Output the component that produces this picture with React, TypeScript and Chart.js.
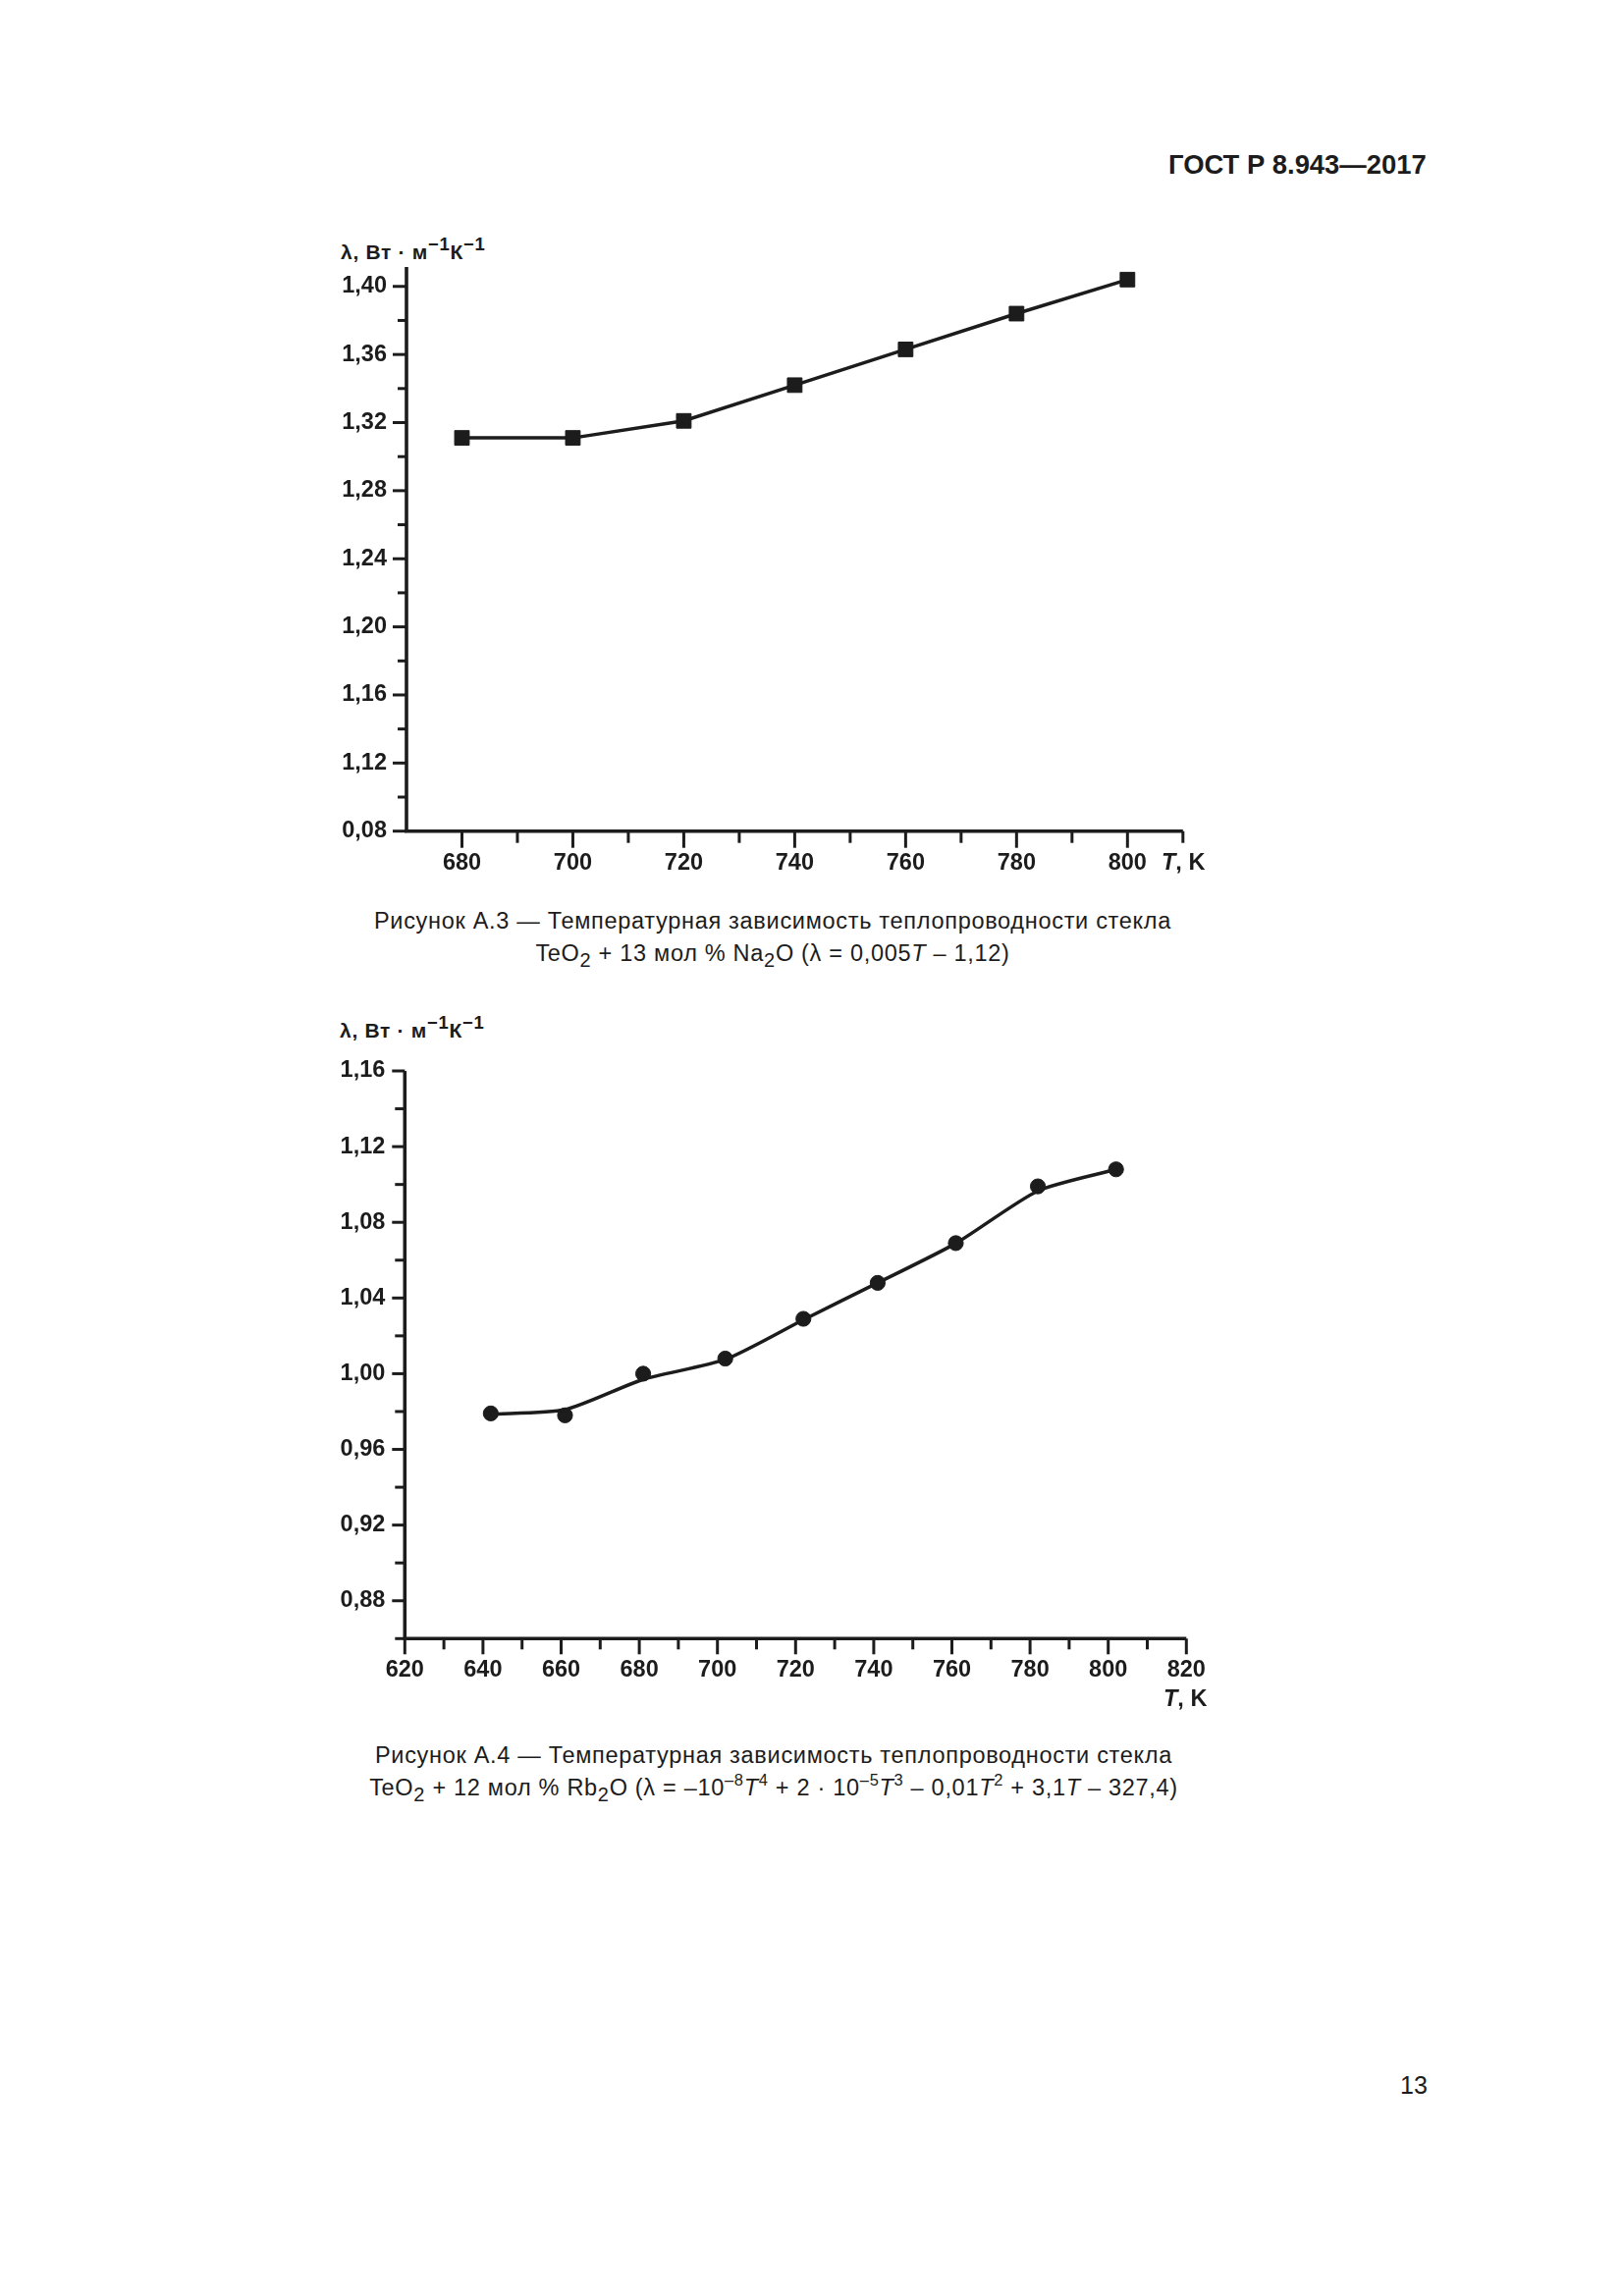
import React, { useEffect, useRef } from "react";
import { Chart, registerables } from "chart.js";

Chart.register(...registerables);

const FONT = '"Liberation Sans", Arial, Helvetica, sans-serif';
const INK = "#1c1c1c";

// ---------- Figure A.3 : TeO2 + 13 mol % Na2O ----------
const tempA3 = [680, 700, 720, 740, 760, 780, 800];
const lambdaA3 = [1.311, 1.311, 1.321, 1.342, 1.363, 1.384, 1.404];
const yMajorA3 = [1.08, 1.12, 1.16, 1.2, 1.24, 1.28, 1.32, 1.36, 1.4];
const yLabelsA3 = ["0,08", "1,12", "1,16", "1,20", "1,24", "1,28", "1,32", "1,36", "1,40"];
const yMinorA3 = [1.1, 1.14, 1.18, 1.22, 1.26, 1.3, 1.34, 1.38];
const xMajorA3 = [680, 700, 720, 740, 760, 780, 800];
const xLabelsA3 = ["680", "700", "720", "740", "760", "780", "800"];
const xMinorA3 = [690, 710, 730, 750, 770, 790, 810];

// ---------- Figure A.4 : TeO2 + 12 mol % Rb2O ----------
const tempA4 = [642, 661, 681, 702, 722, 741, 761, 782, 802];
const lambdaA4 = [0.979, 0.978, 1.0, 1.008, 1.029, 1.048, 1.069, 1.099, 1.108];
const fitTempA4 = [642, 661, 681, 702, 722, 741, 761, 782, 802];
const fitLambdaA4 = [0.9786, 0.981, 0.997, 1.0075, 1.0285, 1.048, 1.0689, 1.0966, 1.108];
const yMajorA4 = [0.88, 0.92, 0.96, 1.0, 1.04, 1.08, 1.12, 1.16];
const yLabelsA4 = ["0,88", "0,92", "0,96", "1,00", "1,04", "1,08", "1,12", "1,16"];
const yMinorA4 = [0.86, 0.9, 0.94, 0.98, 1.02, 1.06, 1.1, 1.14];
const xMajorA4 = [620, 640, 660, 680, 700, 720, 740, 760, 780, 800, 820];
const xLabelsA4 = ["620", "640", "660", "680", "700", "720", "740", "760", "780", "800", "820"];
const xMinorA4 = [630, 650, 670, 690, 710, 730, 750, 770, 790, 810];

type AxisCfg = {
  major: number[];
  labels: string[];
  minor: number[];
  majorLen: number;
  minorLen: number;
};

function makeAxesPlugin(xCfg: AxisCfg, yCfg: AxisCfg) {
  return {
    id: "gostAxes",
    afterDraw(chart: any) {
      const { ctx, chartArea, scales } = chart;
      const xs = scales.x;
      const ys = scales.y;
      ctx.save();
      ctx.strokeStyle = INK;
      ctx.lineCap = "butt";
      ctx.lineWidth = 3;
      const xt = (vals: number[], len: number) =>
        vals.forEach((v) => {
          const px = xs.getPixelForValue(v);
          ctx.beginPath();
          ctx.moveTo(px, chartArea.bottom);
          ctx.lineTo(px, chartArea.bottom + len);
          ctx.stroke();
        });
      const yt = (vals: number[], len: number) =>
        vals.forEach((v) => {
          const py = ys.getPixelForValue(v);
          ctx.beginPath();
          ctx.moveTo(chartArea.left, py);
          ctx.lineTo(chartArea.left - len, py);
          ctx.stroke();
        });
      xt(xCfg.major, xCfg.majorLen);
      xt(xCfg.minor, xCfg.minorLen);
      yt(yCfg.major, yCfg.majorLen);
      yt(yCfg.minor, yCfg.minorLen);
      ctx.lineWidth = 3.6;
      ctx.lineJoin = "miter";
      ctx.beginPath();
      ctx.moveTo(chartArea.left, chartArea.top);
      ctx.lineTo(chartArea.left, chartArea.bottom);
      ctx.lineTo(chartArea.right, chartArea.bottom);
      ctx.stroke();
      ctx.restore();
    },
  };
}

function labelFor(cfg: AxisCfg, v: number) {
  const i = cfg.major.findIndex((m) => Math.abs(m - v) < 1e-6);
  return i >= 0 ? cfg.labels[i] : "";
}

type ChartSpec = {
  width: number;
  height: number;
  yWidth: number;
  xHeight: number;
  padTop: number;
  padRight: number;
  xMin: number;
  xMax: number;
  yMin: number;
  yMax: number;
  xCfg: AxisCfg;
  yCfg: AxisCfg;
  yPad: number;
  xPad: number;
  datasets: any[];
};

function GostChart({ spec }: { spec: ChartSpec }) {
  const ref = useRef<HTMLCanvasElement | null>(null);
  useEffect(() => {
    if (!ref.current) return;
    const tickFont = { family: FONT, size: 23.5, weight: "bold" as const };
    const chart = new Chart(ref.current, {
      type: "line",
      data: { datasets: spec.datasets },
      options: {
        animation: false,
        responsive: true,
        maintainAspectRatio: false,
        devicePixelRatio: 1,
        layout: { padding: { top: spec.padTop, right: spec.padRight, left: 0, bottom: 0 } },
        plugins: { legend: { display: false }, tooltip: { enabled: false } },
        events: [],
        scales: {
          x: {
            type: "linear",
            min: spec.xMin,
            max: spec.xMax,
            grid: { display: false, drawTicks: false },
            border: { display: false },
            afterBuildTicks: (scale: any) => {
              scale.ticks = spec.xCfg.major.map((v) => ({ value: v }));
            },
            afterFit: (scale: any) => {
              scale.height = spec.xHeight;
            },
            ticks: {
              autoSkip: false,
              maxRotation: 0,
              padding: spec.xPad,
              color: INK,
              font: tickFont,
              callback: (v: any) => labelFor(spec.xCfg, Number(v)),
            },
          },
          y: {
            type: "linear",
            min: spec.yMin,
            max: spec.yMax,
            grid: { display: false, drawTicks: false },
            border: { display: false },
            afterBuildTicks: (scale: any) => {
              scale.ticks = spec.yCfg.major.map((v) => ({ value: v }));
            },
            afterFit: (scale: any) => {
              scale.width = spec.yWidth;
            },
            ticks: {
              autoSkip: false,
              padding: spec.yPad,
              color: INK,
              font: tickFont,
              callback: (v: any) => labelFor(spec.yCfg, Number(v)),
            },
          },
        },
      },
      plugins: [makeAxesPlugin(spec.xCfg, spec.yCfg)],
    } as any);
    return () => chart.destroy();
  }, [spec]);
  return (
    <div style={{ width: spec.width, height: spec.height, position: "relative" }}>
      <canvas ref={ref} />
    </div>
  );
}

const specA3: ChartSpec = {
  width: 960,
  height: 680,
  yWidth: 114,
  xHeight: 63.3,
  padTop: 42,
  padRight: 55.2,
  xMin: 670,
  xMax: 810,
  yMin: 1.08,
  yMax: 1.4114,
  xCfg: { major: xMajorA3, labels: xLabelsA3, minor: xMinorA3, majorLen: 17, minorLen: 12 },
  yCfg: { major: yMajorA3, labels: yLabelsA3, minor: yMinorA3, majorLen: 14, minorLen: 9 },
  yPad: 20,
  xPad: 18.5,
  datasets: [
    {
      data: tempA3.map((t, i) => ({ x: t, y: lambdaA3[i] })),
      borderColor: INK,
      borderWidth: 3.5,
      tension: 0,
      pointStyle: "rect",
      pointRadius: 10.5,
      pointBorderWidth: 1,
      pointBackgroundColor: INK,
      pointBorderColor: INK,
    },
  ],
};

const specA4: ChartSpec = {
  width: 960,
  height: 700,
  yWidth: 112.3,
  xHeight: 80.7,
  padTop: 41,
  padRight: 51.7,
  xMin: 620,
  xMax: 820,
  yMin: 0.86,
  yMax: 1.16,
  xCfg: { major: xMajorA4, labels: xLabelsA4, minor: xMinorA4, majorLen: 16, minorLen: 11 },
  yCfg: { major: yMajorA4, labels: yLabelsA4, minor: yMinorA4, majorLen: 13, minorLen: 10 },
  yPad: 20,
  xPad: 18,
  datasets: [
    {
      data: fitTempA4.map((t, i) => ({ x: t, y: fitLambdaA4[i] })),
      borderColor: INK,
      borderWidth: 3.5,
      tension: 0.22,
      pointRadius: 0,
    },
    {
      data: tempA4.map((t, i) => ({ x: t, y: lambdaA4[i] })),
      showLine: false,
      pointStyle: "circle",
      pointRadius: 7.6,
      pointBorderWidth: 1,
      pointBackgroundColor: INK,
      pointBorderColor: INK,
    },
  ],
};

function Txt({
  left,
  baseline,
  size,
  bold,
  center,
  width,
  spacing,
  children,
}: {
  left: number;
  baseline: number;
  size: number;
  bold?: boolean;
  center?: boolean;
  width?: number;
  spacing?: number;
  children: React.ReactNode;
}) {
  return (
    <div
      style={{
        position: "absolute",
        left,
        top: baseline - 0.8465 * size,
        width: width,
        fontFamily: FONT,
        fontSize: size,
        lineHeight: `${size}px`,
        fontWeight: bold ? 700 : 400,
        color: INK,
        whiteSpace: "nowrap",
        letterSpacing: spacing ? `${spacing}px` : undefined,
        textAlign: center ? "center" : "left",
      }}
    >
      {children}
    </div>
  );
}

const Sup = ({ children, scale = 0.88, rise = 0.42 }: { children: React.ReactNode; scale?: number; rise?: number }) => (
  <span style={{ fontSize: `${scale}em`, position: "relative", top: `-${rise / scale}em`, lineHeight: 0 }}>{children}</span>
);
const Sub = ({ children }: { children: React.ReactNode }) => (
  <span style={{ fontSize: "0.85em", position: "relative", top: "0.3em", lineHeight: 0 }}>{children}</span>
);

const YTitle = () => (
  <>
    λ, Вт · м<Sup>−1</Sup>К<Sup>−1</Sup>
  </>
);

const CAP = 23.5;
const CAP_SP = 0.7;

export default function App() {
  return (
    <div style={{ position: "absolute", left: 0, top: 0, width: 1653, height: 2339, background: "#fff", overflow: "hidden" }}>
      <Txt left={1190} baseline={176.7} size={27.4} bold>
        ГОСТ Р 8.943—2017
      </Txt>

      <Txt left={347} baseline={263.3} size={21} bold spacing={0.7}>
        <YTitle />
      </Txt>
      <div style={{ position: "absolute", left: 300, top: 230 }}>
        <GostChart spec={specA3} />
      </div>
      <Txt left={1183} baseline={886.6} size={23.5} bold>
        <i>T</i>, K
      </Txt>
      <Txt left={287} width={1000} center baseline={946.7} size={CAP} spacing={CAP_SP}>
        Рисунок А.3 — Температурная зависимость теплопроводности стекла
      </Txt>
      <Txt left={287} width={1000} center baseline={980} size={CAP} spacing={CAP_SP}>
        TeO<Sub>2</Sub> + 13 мол % Na<Sub>2</Sub>O (λ = 0,005<i>T</i> – 1,12)
      </Txt>

      <Txt left={346} baseline={1057} size={21} bold spacing={0.7}>
        <YTitle />
      </Txt>
      <div style={{ position: "absolute", left: 300, top: 1050 }}>
        <GostChart spec={specA4} />
      </div>
      <Txt left={1185} baseline={1738.4} size={23.5} bold>
        <i>T</i>, K
      </Txt>
      <Txt left={288} width={1000} center baseline={1797} size={CAP} spacing={CAP_SP}>
        Рисунок А.4 — Температурная зависимость теплопроводности стекла
      </Txt>
      <Txt left={288} width={1000} center baseline={1830} size={CAP} spacing={CAP_SP}>
        TeO<Sub>2</Sub> + 12 мол % Rb<Sub>2</Sub>O (λ = –10<Sup scale={0.7}>–8</Sup>
        <i>T</i>
        <Sup scale={0.7}>4</Sup> + 2 · 10<Sup scale={0.7}>–5</Sup>
        <i>T</i>
        <Sup scale={0.7}>3</Sup> – 0,01<i>T</i>
        <Sup scale={0.7}>2</Sup> + 3,1<i>T</i> – 327,4)
      </Txt>

      <Txt left={1426} baseline={2133} size={25}>
        13
      </Txt>
    </div>
  );
}
